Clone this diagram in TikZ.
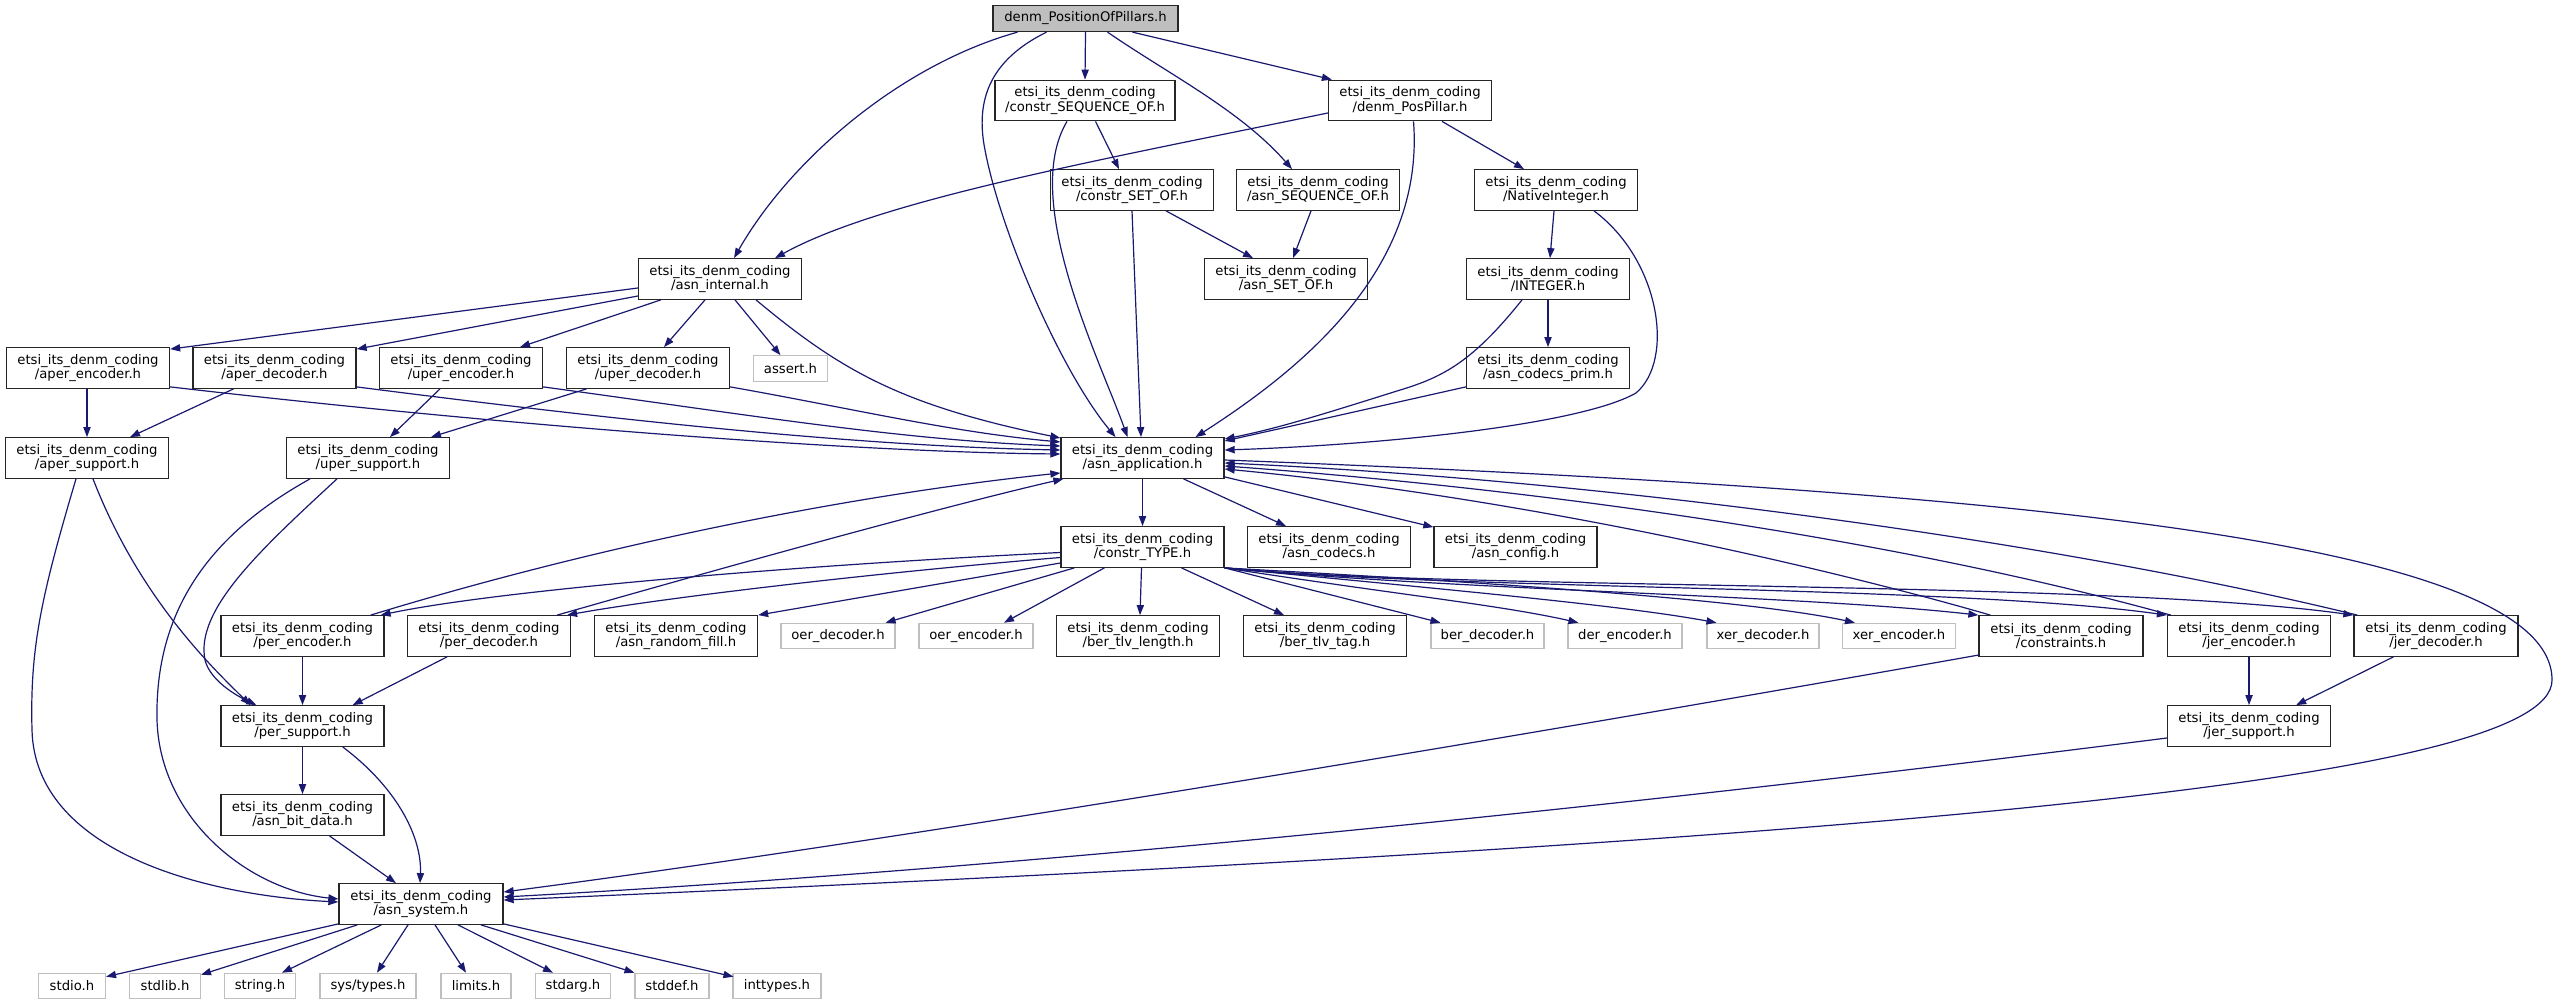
\documentclass[tikz,border=0pt]{standalone}
\usepackage{fontspec}
\setmainfont{DejaVu Sans}
\usetikzlibrary{arrows.meta,calc}
\definecolor{edgec}{HTML}{191970}
\definecolor{gborder}{HTML}{BFBFBF}
\definecolor{rootfill}{HTML}{BFBFBF}
\begin{document}
\begin{tikzpicture}[x=0.5pt,y=-0.5pt,
 every node/.style={font=\fontsize{6.6}{7.1}\selectfont},
 bn/.style={draw=black!85, line width=0.65pt, fill=white, inner sep=0pt, minimum width=81.5pt, minimum height=20.25pt, align=center},
 gn/.style={draw=gborder, line width=0.55pt, fill=white, inner sep=0pt, minimum height=12.75pt, align=center},
 wd/.style={minimum width=#1*0.5pt},
 dep/.style={draw=edgec, line width=0.6pt, -{Triangle[length=5pt,width=3.6pt]}}
]
\fill[white] (0,0) rectangle (2557,1005);
\useasboundingbox (0,0) rectangle (2557,1005);
% nodes
\node[bn,wd=185,minimum height=13pt,fill=rootfill] (top) at (1085.5,18.5) {denm\_PositionOfPillars.h};
\node[bn,wd=180] (cseq) at (1085,100.5) {etsi\_its\_denm\_coding\\/constr\_SEQUENCE\_OF.h};
\node[bn] (posp) at (1410,100.5) {etsi\_its\_denm\_coding\\/denm\_PosPillar.h};
\node[bn] (cset) at (1132,190) {etsi\_its\_denm\_coding\\/constr\_SET\_OF.h};
\node[bn] (aseq) at (1318,190) {etsi\_its\_denm\_coding\\/asn\_SEQUENCE\_OF.h};
\node[bn] (natint) at (1556,190) {etsi\_its\_denm\_coding\\/NativeInteger.h};
\node[bn] (aset) at (1286,279) {etsi\_its\_denm\_coding\\/asn\_SET\_OF.h};
\node[bn] (integer) at (1548,279) {etsi\_its\_denm\_coding\\/INTEGER.h};
\node[bn] (asnint) at (720,279) {etsi\_its\_denm\_coding\\/asn\_internal.h};
\node[bn] (aperenc) at (88,368) {etsi\_its\_denm\_coding\\/aper\_encoder.h};
\node[bn] (aperdec) at (274.5,368) {etsi\_its\_denm\_coding\\/aper\_decoder.h};
\node[bn] (uperenc) at (461,368) {etsi\_its\_denm\_coding\\/uper\_encoder.h};
\node[bn] (uperdec) at (648,368) {etsi\_its\_denm\_coding\\/uper\_decoder.h};
\node[gn,wd=74] (assert) at (790.5,368.5) {assert.h};
\node[bn] (cprim) at (1548,368) {etsi\_its\_denm\_coding\\/asn\_codecs\_prim.h};
\node[bn] (apersup) at (87,458) {etsi\_its\_denm\_coding\\/aper\_support.h};
\node[bn] (upersup) at (368,458) {etsi\_its\_denm\_coding\\/uper\_support.h};
\node[bn] (asnapp) at (1142.5,458) {etsi\_its\_denm\_coding\\/asn\_application.h};
\node[bn] (ctype) at (1142.5,547) {etsi\_its\_denm\_coding\\/constr\_TYPE.h};
\node[bn] (codecs) at (1329,547) {etsi\_its\_denm\_coding\\/asn\_codecs.h};
\node[bn] (config) at (1515.5,547) {etsi\_its\_denm\_coding\\/asn\_config.h};
\node[bn] (perenc) at (302.5,636) {etsi\_its\_denm\_coding\\/per\_encoder.h};
\node[bn] (perdec) at (489,636) {etsi\_its\_denm\_coding\\/per\_decoder.h};
\node[bn] (rfill) at (676,636) {etsi\_its\_denm\_coding\\/asn\_random\_fill.h};
\node[gn,wd=114] (oerdec) at (838,636) {oer\_decoder.h};
\node[gn,wd=114] (oerenc) at (976,636) {oer\_encoder.h};
\node[bn] (tlvlen) at (1138,636) {etsi\_its\_denm\_coding\\/ber\_tlv\_length.h};
\node[bn] (tlvtag) at (1325,636) {etsi\_its\_denm\_coding\\/ber\_tlv\_tag.h};
\node[gn,wd=113] (berdec) at (1487.5,636) {ber\_decoder.h};
\node[gn,wd=114] (derenc) at (1625,636) {der\_encoder.h};
\node[gn,wd=112] (xerdec) at (1763,636) {xer\_decoder.h};
\node[gn,wd=113] (xerenc) at (1899,636) {xer\_encoder.h};
\node[bn,wd=164] (constr) at (2061,636) {etsi\_its\_denm\_coding\\/constraints.h};
\node[bn] (jerenc) at (2249,636) {etsi\_its\_denm\_coding\\/jer\_encoder.h};
\node[bn,wd=164] (jerdec) at (2436,636) {etsi\_its\_denm\_coding\\/jer\_decoder.h};
\node[bn] (persup) at (302.5,726) {etsi\_its\_denm\_coding\\/per\_support.h};
\node[bn] (jersup) at (2249,726) {etsi\_its\_denm\_coding\\/jer\_support.h};
\node[bn] (bitdata) at (302.5,815) {etsi\_its\_denm\_coding\\/asn\_bit\_data.h};
\node[bn,wd=164] (asnsys) at (421,904) {etsi\_its\_denm\_coding\\/asn\_system.h};
\node[gn,wd=67] (stdio) at (72,986) {stdio.h};
\node[gn,wd=71] (stdlib) at (165,986) {stdlib.h};
\node[gn,wd=71] (string) at (260,986) {string.h};
\node[gn,wd=96] (systypes) at (368,986) {sys/types.h};
\node[gn,wd=70] (limits) at (476,986) {limits.h};
\node[gn,wd=74.5] (stdarg) at (573,986) {stdarg.h};
\node[gn,wd=74] (stddef) at (672,986) {stddef.h};
\node[gn,wd=88] (inttypes) at (777,986) {inttypes.h};
% edges from root
\draw[dep] ($(top.south)+(-68,0)$) .. controls (900,65) and (790,160) .. ($(asnint.north)+(14,0)$);
\draw[dep] ($(top.south)+(-39,0)$) .. controls (990,60) and (975,100) .. (985,150) .. controls (1000,230) and (1060,370) .. ($(asnapp.north)+(-27,0)$);
\draw[dep] (top.south) -- (cseq.north);
\draw[dep] ($(top.south)+(22,0)$) .. controls (1170,75) and (1240,110) .. ($(aseq.north)+(-26,0)$);
\draw[dep] ($(top.south)+(47,0)$) -- ($(posp.north west)+(4,0)$);
\draw[dep] ($(cseq.south)+(10.5,0)$) -- ($(cset.north)+(-13,0)$);
\draw[dep] ($(cseq.south)+(-18,0)$) .. controls (1020,200) and (1100,360) .. ($(asnapp.north)+(-15,0)$);
\draw[dep] ($(posp.west)+(0,12.5)$) .. controls (1100,160) and (880,200) .. ($(asnint.north)+(55,0)$);
\draw[dep] ($(posp.south)+(3.5,0)$) .. controls (1425,270) and (1300,370) .. ($(asnapp.north)+(53,0)$);
\draw[dep] ($(posp.south)+(32,0)$) -- ($(natint.north)+(-32,0)$);
\draw[dep] ($(cset.south)+(34,0)$) -- ($(aset.north)+(-33,0)$);
\draw[dep] (cset.south) -- ($(asnapp.north)+(-1.5,0)$);
\draw[dep] ($(aseq.south)+(-7,0)$) -- ($(aset.north)+(7,0)$);
\draw[dep] ($(natint.south)+(-2,0)$) -- ($(integer.north)+(2,0)$);
\draw[dep] ($(natint.south)+(38,0)$) .. controls (1660,260) and (1675,360) .. (1636,393) .. controls (1580,425) and (1380,445) .. ($(asnapp.east)+(0,-8)$);
\draw[dep] (integer.south) -- (cprim.north);
\draw[dep] ($(integer.south)+(-26,0)$) .. controls (1470,365) and (1440,378) .. (1397,391) .. controls (1330,412) and (1280,428) .. ($(asnapp.east)+(0,-19)$);
\draw[dep] ($(cprim.south west)+(0,-2)$) -- ($(asnapp.east)+(0,-17)$);
% asn_internal
\draw[dep] ($(asnint.west)+(0,9)$) -- ($(aperenc.north east)+(0,2)$);
\draw[dep] ($(asnint.west)+(0,17)$) -- ($(aperdec.north east)+(0,2)$);
\draw[dep] ($(asnint.south west)+(23,0)$) -- ($(uperenc.north)+(59,0)$);
\draw[dep] ($(asnint.south)+(-15,0)$) -- ($(uperdec.north)+(16,0)$);
\draw[dep] ($(asnint.south)+(15,0)$) -- ($(assert.north)+(-10,0)$);
\draw[dep] ($(asnint.south)+(36,0)$) .. controls (840,370) and (900,405) .. ($(asnapp.west)+(0,-20)$);
% aper / uper
\draw[dep] ($(aperenc.south)+(-1,0)$) -- (apersup.north);
\draw[dep] ($(aperenc.south east)+(0,-2)$) .. controls (500,425) and (850,452) .. ($(asnapp.west)+(0,-4)$);
\draw[dep] ($(aperdec.south)+(-41,0)$) -- ($(apersup.north)+(43,0)$);
\draw[dep] ($(aperdec.south east)+(0,-2)$) .. controls (600,418) and (850,446) .. ($(asnapp.west)+(0,-8)$);
\draw[dep] ($(uperenc.south)+(-21,0)$) -- ($(upersup.north)+(22,0)$);
\draw[dep] ($(uperenc.south east)+(0,-2)$) .. controls (750,415) and (900,440) .. ($(asnapp.west)+(0,-12)$);
\draw[dep] ($(uperdec.south)+(-61.5,0)$) -- ($(upersup.north)+(63,0)$);
\draw[dep] ($(uperdec.south east)+(0,-2)$) .. controls (850,408) and (950,432) .. ($(asnapp.west)+(0,-16)$);
% supports
\draw[dep] ($(apersup.south)+(6,0)$) .. controls (140,600) and (215,670) .. ($(persup.north west)+(30,0)$);
\draw[dep] ($(apersup.south)+(-11,0)$) .. controls (40,600) and (30,650) .. (32,730) .. controls (35,850) and (200,895) .. ($(asnsys.west)+(0,-2)$);
\draw[dep] ($(upersup.south)+(-31,0)$) .. controls (260,550) and (195,610) .. (205,660) .. controls (210,680) and (235,695) .. ($(persup.north west)+(36,0)$);
\draw[dep] ($(upersup.south)+(-58,0)$) .. controls (200,540) and (155,620) .. (157,720) .. controls (160,820) and (250,890) .. ($(asnsys.west)+(0,-5)$);
% asn_application
\draw[dep] (asnapp.south) -- (ctype.north);
\draw[dep] ($(asnapp.south)+(41,0)$) -- ($(codecs.north)+(-43,0)$);
\draw[dep] ($(asnapp.south east)+(0,-2)$) -- ($(config.north west)+(0,1)$);
\draw[dep] ($(asnapp.east)+(0,2)$) .. controls (2000,490) and (2552,540) .. (2552,680) .. controls (2552,780) and (1900,840) .. ($(asnsys.east)+(0,-4)$);
% constr_TYPE
\draw[dep] ($(ctype.west)+(0,5.5)$) .. controls (800,565) and (500,590) .. ($(perenc.north east)+(-4,0)$);
\draw[dep] ($(ctype.west)+(0,10.5)$) .. controls (850,575) and (650,600) .. ($(perdec.north east)+(-4,0)$);
\draw[dep] ($(ctype.west)+(0,16)$) -- (rfill.north east);
\draw[dep] ($(ctype.south west)+(14,0)$) -- ($(oerdec.north east)+(-10,0)$);
\draw[dep] ($(ctype.south west)+(44,0)$) -- ($(oerenc.north)+(28,0)$);
\draw[dep] ($(ctype.south)+(-1,0)$) -- ($(tlvlen.north)+(2,0)$);
\draw[dep] ($(ctype.south)+(39,0)$) -- ($(tlvtag.north)+(-41,0)$);
\draw[dep] (ctype.south east) -- ($(berdec.north west)+(10,0)$);
\draw[dep] (ctype.south east) .. controls (1400,595) and (1500,605) .. ($(derenc.north west)+(11,0)$);
\draw[dep] (ctype.south east) .. controls (1450,590) and (1620,605) .. ($(xerdec.north west)+(10,0)$);
\draw[dep] (ctype.south east) .. controls (1500,583) and (1750,600) .. ($(xerenc.north west)+(13,0)$);
\draw[dep] (ctype.south east) .. controls (1450,590) and (1800,595) .. (constr.north west);
\draw[dep] (ctype.south east) .. controls (1450,590) and (1950,585) .. (jerenc.north west);
\draw[dep] (ctype.south east) .. controls (1450,590) and (2100,580) .. (jerdec.north west);
% per
\draw[dep] ($(perenc.north east)+(-14,0)$) .. controls (600,545) and (850,495) .. ($(asnapp.west)+(0,15)$);
\draw[dep] ($(perdec.north east)+(-14,0)$) .. controls (750,560) and (950,505) .. ($(asnapp.south west)+(3,0)$);
\draw[dep] (perenc.south) -- (persup.north);
\draw[dep] ($(perdec.south)+(-42,0)$) -- ($(persup.north east)+(-32,0)$);
% constraints / jer
\draw[dep] ($(constr.north west)+(12,0)$) .. controls (1800,560) and (1500,495) .. ($(asnapp.east)+(0,11)$);
\draw[dep] ($(constr.south west)+(1,-2)$) .. controls (1500,740) and (900,840) .. ($(asnsys.east)+(0,-12)$);
\draw[dep] ($(jerenc.north west)+(4,0)$) .. controls (1900,540) and (1550,490) .. ($(asnapp.east)+(0,8)$);
\draw[dep] (jerenc.south) -- (jersup.north);
\draw[dep] ($(jerdec.north west)+(4,0)$) .. controls (2050,540) and (1600,480) .. ($(asnapp.east)+(0,5)$);
\draw[dep] ($(jerdec.south west)+(40,0)$) -- ($(jersup.north east)+(-35,0)$);
\draw[dep] ($(jersup.west)+(0,12)$) .. controls (1600,810) and (1000,870) .. ($(asnsys.east)+(0,-7)$);
% per_support / bit_data
\draw[dep] (persup.south) -- (bitdata.north);
\draw[dep] ($(persup.south east)+(-42,0)$) .. controls (400,790) and (422,840) .. ($(asnsys.north)+(-1,0)$);
\draw[dep] ($(bitdata.south)+(27,0)$) -- ($(asnsys.north)+(-25,0)$);
% asn_system
\draw[dep] ($(asnsys.south west)+(0,-1)$) -- ($(stdio.north east)+(0,4)$);
\draw[dep] ($(asnsys.south west)+(19,0)$) -- ($(stdlib.north east)+(0,2)$);
\draw[dep] ($(asnsys.south west)+(43,0)$) -- ($(string.north)+(22,0)$);
\draw[dep] ($(asnsys.south)+(-13,0)$) -- ($(systypes.north)+(9,0)$);
\draw[dep] ($(asnsys.south)+(14,0)$) -- ($(limits.north)+(-10,0)$);
\draw[dep] ($(asnsys.south)+(37,0)$) -- ($(stdarg.north)+(-20,0)$);
\draw[dep] ($(asnsys.south)+(60,0)$) -- (stddef.north west);
\draw[dep] ($(asnsys.south east)+(0,-1)$) -- ($(inttypes.north west)+(1,4)$);
\end{tikzpicture}
\end{document}
